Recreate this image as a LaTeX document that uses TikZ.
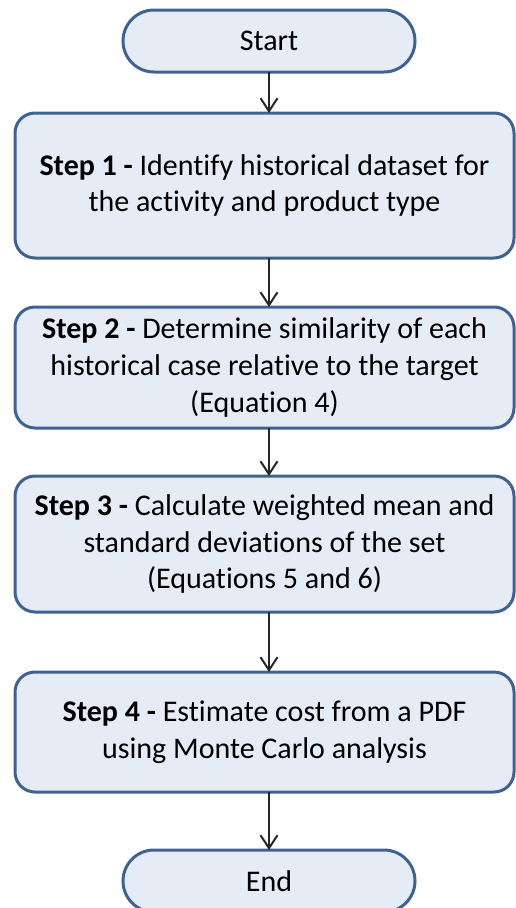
\documentclass[tikz,border=0pt]{standalone}
\usepackage{fontspec}
\setmainfont{Carlito}[Ligatures=NoCommon]
\usepackage{tikz}
\usetikzlibrary{positioning, arrows.meta}

\definecolor{boxline}{RGB}{62,99,146}
\definecolor{boxfill}{RGB}{230,236,245}

\begin{document}
\begin{tikzpicture}[x=1pt, y=-1pt,
  term/.style={draw=boxline, line width=3pt, fill=boxfill, rectangle, rounded corners=31pt, minimum width=292pt, minimum height=62pt, inner sep=0pt, outer sep=0pt, font=\fontsize{30}{36.6}\selectfont},
  stepbox/.style={draw=boxline, line width=3pt, fill=boxfill, rectangle, rounded corners=20pt, minimum width=499pt, inner sep=0pt, outer sep=0pt, align=center, font=\fontsize{30}{36.6}\selectfont},
  arr/.style={-{Straight Barb[length=13pt, width=17pt, line width=2pt]}, line width=2pt, black!85}
]
\useasboundingbox (0,0) rectangle (515,908);

\node[term] (start) at (269,41) {Start};

\node[stepbox, minimum height=145pt, below=41pt of start, xshift=-4.5pt] (s1) {\textbf{Step 1 -} Identify historical dataset for\\the activity and product type};
\node[stepbox, minimum height=121pt, below=49pt of s1] (s2) {\textbf{Step 2 -} Determine similarity of each\\historical case relative to the target\\(Equation 4)};
\node[stepbox, minimum height=136pt, below=48pt of s2] (s3) {\textbf{Step 3 -} Calculate weighted mean and\\standard deviations of the set\\(Equations 5 and 6)};
\node[stepbox, minimum height=120pt, below=60pt of s3] (s4) {\textbf{Step 4 -} Estimate cost from a PDF\\using Monte Carlo analysis};

\node[term, below=58pt of s4, xshift=4.5pt] (finish) {End};

\draw[arr] (start.south) -- (start.south |- s1.north);
\draw[arr] (s1.south -| start) -- (s2.north -| start);
\draw[arr] (s2.south -| start) -- (s3.north -| start);
\draw[arr] (s3.south -| start) -- (s4.north -| start);
\draw[arr] (s4.south -| start) -- (finish.north);
\end{tikzpicture}
\end{document}
